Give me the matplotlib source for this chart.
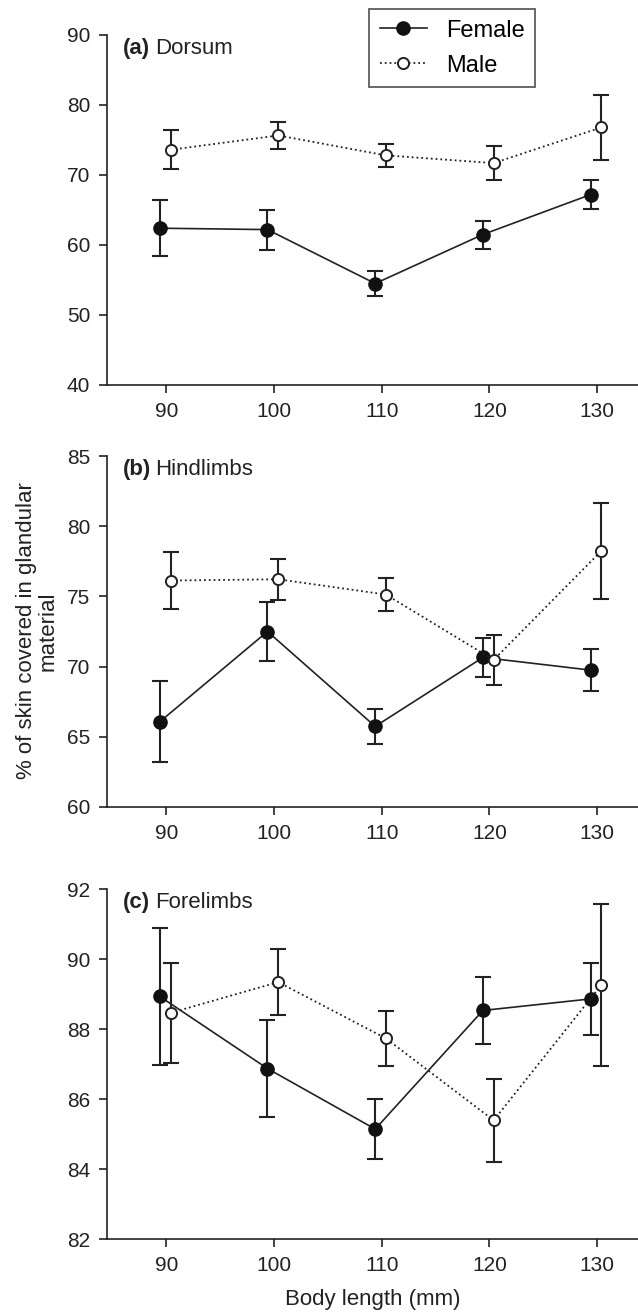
import matplotlib.pyplot as plt
import numpy as np

plt.rcParams['font.family'] = ['Liberation Sans', 'DejaVu Sans']

body_length = np.array([90, 100, 110, 120, 130])

# (a) Dorsum
dorsum_female = [62.4, 62.2, 54.5, 61.5, 67.2]
dorsum_female_err = [4.0, 2.85, 1.75, 2.0, 2.1]
dorsum_male = [73.6, 75.65, 72.8, 71.7, 76.8]
dorsum_male_err = [2.8, 1.95, 1.6, 2.4, 4.7]

# (b) Hindlimbs
hind_female = [66.07, 72.5, 65.74, 70.65, 69.75]
hind_female_err = [2.87, 2.09, 1.25, 1.42, 1.5]
hind_male = [76.13, 76.22, 75.13, 70.48, 78.24]
hind_male_err = [2.03, 1.45, 1.16, 1.79, 3.42]

# (c) Forelimbs
fore_female = [88.93, 86.87, 85.14, 88.53, 88.86]
fore_female_err = [1.97, 1.38, 0.85, 0.95, 1.04]
fore_male = [88.46, 89.34, 87.73, 85.39, 89.26]
fore_male_err = [1.43, 0.95, 0.79, 1.19, 2.32]

panels = [
    ('(a)', 'Dorsum', dorsum_female, dorsum_female_err, dorsum_male, dorsum_male_err,
     (40, 90), [40, 50, 60, 70, 80, 90]),
    ('(b)', 'Hindlimbs', hind_female, hind_female_err, hind_male, hind_male_err,
     (60, 85), [60, 65, 70, 75, 80, 85]),
    ('(c)', 'Forelimbs', fore_female, fore_female_err, fore_male, fore_male_err,
     (82, 92), [82, 84, 86, 88, 90, 92]),
]

# axes boxes in pixels (top, bottom) for a 638x1312 figure
W, H = 638, 1312
boxes = [(35, 385), (456, 807), (889, 1239)]
left_px = 107

fig = plt.figure(figsize=(W / 100, H / 100), dpi=100)

off_f = -0.6
off_m = 0.4

for (tag, name, f, fe, m, me, ylim, yt), (top, bot) in zip(panels, boxes):
    ax = fig.add_axes([left_px / W, 1 - bot / H, 1 - left_px / W, (bot - top) / H])

    ax.errorbar(body_length + off_f, f, yerr=fe, fmt='none', ecolor='#222222',
                elinewidth=1.5, capsize=6, capthick=1.5, zorder=2)
    hf, = ax.plot(body_length + off_f, f, '-', color='#222222', lw=1.2,
                  marker='o', ms=9.5, mfc='#111111', mec='#111111', zorder=3,
                  label='Female')
    ax.errorbar(body_length + off_m, m, yerr=me, fmt='none', ecolor='#222222',
                elinewidth=1.5, capsize=6, capthick=1.5, zorder=4)
    hm, = ax.plot(body_length + off_m, m, ':', color='#222222', lw=1.3,
                  marker='o', ms=8, mfc='white', mec='#222222', mew=1.4, zorder=5,
                  label='Male')

    ax.set_xlim(84.5, 133.8)
    ax.set_ylim(*ylim)
    ax.set_yticks(yt)
    ax.set_xticks(body_length)
    ax.spines['top'].set_visible(False)
    ax.spines['right'].set_visible(False)
    for s in ['left', 'bottom']:
        ax.spines[s].set_linewidth(1.2)
        ax.spines[s].set_color('#222222')
    ax.tick_params(direction='out', length=6, width=1.2, color='#222222',
                   labelsize=15, labelcolor='#222222', pad=6)

    ax.text(0.03, 0.962, tag, transform=ax.transAxes, fontsize=16,
            fontweight='bold', va='center', ha='left', color='#222222')
    ax.text(0.09, 0.962, name, transform=ax.transAxes, fontsize=16,
            va='center', ha='left', color='#222222')

ax.set_xlabel('Body length (mm)', fontsize=16, color='#222222', labelpad=10)

fig.text(0.058, 1 - 631 / H, '% of skin covered in glandular\nmaterial',
         rotation=90, ha='center', va='center', fontsize=16, color='#222222',
         linespacing=1.05)

leg = fig.legend([hf, hm], ['Female', 'Male'], loc='upper left',
                 bbox_to_anchor=(369 / W, 1 - 9 / H), fontsize=17,
                 frameon=True, fancybox=False, handlelength=2.0,
                 borderpad=0.45, labelspacing=0.55, handletextpad=0.8,
                 borderaxespad=0)
leg.get_frame().set_edgecolor('#222222')
leg.get_frame().set_linewidth(1.2)

fig.savefig('out.png', dpi=100)
